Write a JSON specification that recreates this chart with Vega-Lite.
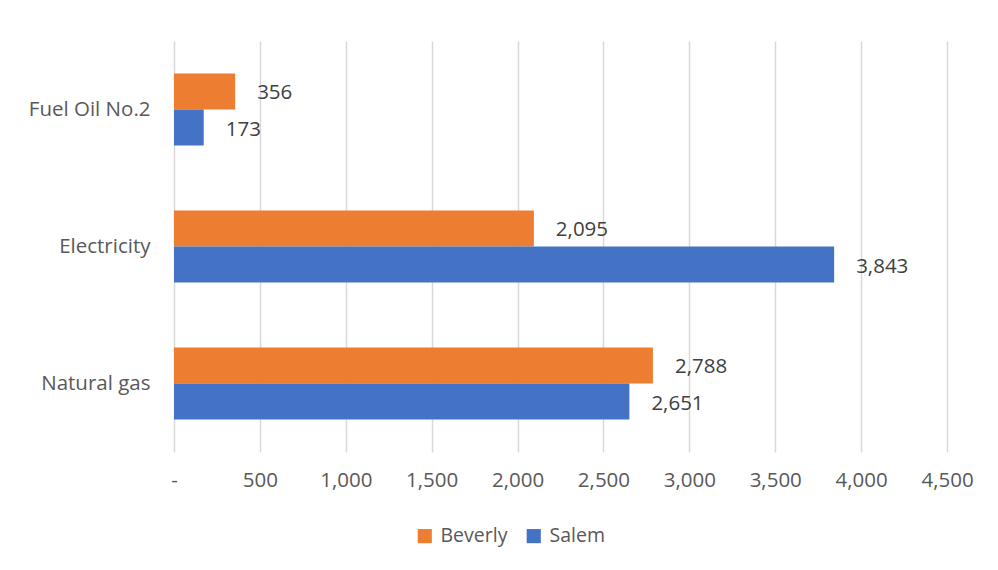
{
  "$schema": "https://vega.github.io/schema/vega-lite/v6.json",
  "autosize": {"type": "none"},
  "width": 773,
  "height": 411,
  "padding": {"left": 174, "top": 41, "right": 51, "bottom": 118},
  "background": "white",
  "data": {
    "values": [
      {"fuel": "Fuel Oil No.2", "city": "Beverly", "value": 356},
      {"fuel": "Fuel Oil No.2", "city": "Salem", "value": 173},
      {"fuel": "Electricity", "city": "Beverly", "value": 2095},
      {"fuel": "Electricity", "city": "Salem", "value": 3843},
      {"fuel": "Natural gas", "city": "Beverly", "value": 2788},
      {"fuel": "Natural gas", "city": "Salem", "value": 2651}
    ]
  },
  "config": {
    "font": "Open Sans",
    "view": {"stroke": null},
    "axis": {"labelColor": "#595959", "labelFontSize": 20.5, "domain": false, "ticks": false}
  },
  "encoding": {
    "y": {
      "field": "fuel",
      "type": "nominal",
      "sort": ["Fuel Oil No.2", "Electricity", "Natural gas"],
      "scale": {"paddingInner": 0.474, "paddingOuter": 0.237},
      "axis": {"title": null, "labelPadding": 24, "grid": false}
    },
    "yOffset": {
      "field": "city",
      "type": "nominal",
      "sort": ["Beverly", "Salem"]
    },
    "x": {
      "field": "value",
      "type": "quantitative",
      "scale": {"domain": [0, 4500], "nice": false},
      "axis": {
        "title": null,
        "values": [0, 500, 1000, 1500, 2000, 2500, 3000, 3500, 4000, 4500],
        "labelExpr": "datum.value == 0 ? '-' : format(datum.value, ',')",
        "labelFlush": false,
        "labelOverlap": false,
        "grid": true,
        "gridColor": "#d9d9d9",
        "gridWidth": 1.5,
        "labelPadding": 18
      }
    }
  },
  "layer": [
    {
      "mark": {"type": "bar"},
      "encoding": {
        "color": {
          "field": "city",
          "type": "nominal",
          "scale": {"domain": ["Beverly", "Salem"], "range": ["#ED7D31", "#4472C4"]},
          "legend": {
            "title": null,
            "orient": "none",
            "direction": "horizontal",
            "legendX": 241,
            "legendY": 485,
            "symbolType": "square",
            "symbolSize": 200,
            "symbolStrokeWidth": 0,
            "labelFontSize": 19.5,
            "labelColor": "#595959",
            "columnPadding": 16,
            "labelOffset": 6
          }
        }
      }
    },
    {
      "mark": {"type": "text", "align": "left", "baseline": "middle", "dx": 22, "dy": 2, "fontSize": 20.5, "color": "#404040"},
      "encoding": {
        "text": {"field": "value", "type": "quantitative", "format": ","}
      }
    }
  ]
}
